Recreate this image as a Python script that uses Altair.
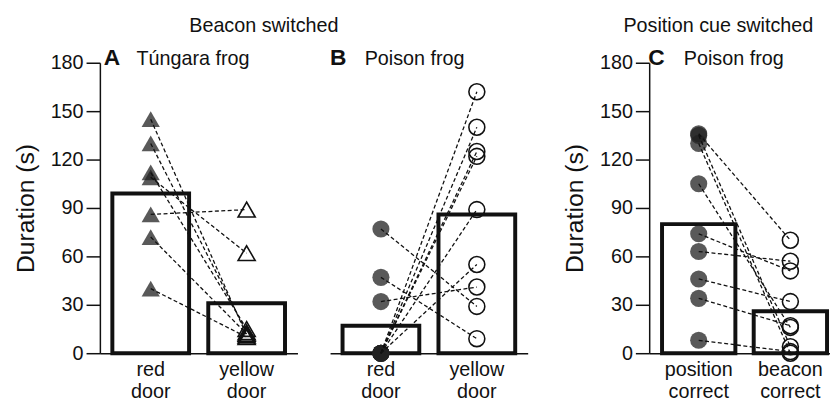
import altair as alt
import pandas as pd

FONT = "Liberation Sans"
INK = "#111111"

# ---- data ----
y_ticks = [0, 30, 60, 90, 120, 150, 180]

a_cats = ["red door", "yellow door"]
a_first = [145, 130, 112, 109, 86, 72, 40]      # red door (filled triangles)
a_second = [11, 13, 15, 62, 89, 12, 10]          # yellow door (open triangles)
a_bars = [99, 31]

b_cats = ["red door", "yellow door"]
b_first = [77, 47, 32, 0, 0, 0, 0, 0, 0]         # red door (filled circles)
b_second = [29, 9, 41, 162, 140, 125, 122, 89, 55]  # yellow door (open circles)
b_bars = [17, 86]

c_cats = ["position correct", "beacon correct"]
c_first = [136, 135, 130, 105, 74, 63, 46, 34, 8]   # position correct
c_second = [70, 4, 0, 16, 51, 57, 32, 17, 1]        # beacon correct
c_bars = [80, 26]


def text_layer(s, x, y, size, weight="normal", align="left"):
    return alt.Chart(pd.DataFrame({"t": [s]})).mark_text(
        align=align, baseline="alphabetic", font=FONT, fontSize=size,
        fontWeight=weight, color=INK
    ).encode(text="t:N", x=alt.value(x), y=alt.value(y))


def panel(cats, first, second, bars, shape, letter, species, show_y,
          letter_x=4, species_x=37, header=None, header_x=0, width=200,
          pad_outer=0.13, align=0.5):
    n = len(first)
    pts = pd.DataFrame({
        "subject": list(range(n)) * 2,
        "cond": [cats[0]] * n + [cats[1]] * n,
        "value": first + second,
    })
    bar_df = pd.DataFrame({"cond": cats, "value": bars})
    xs = alt.Scale(domain=cats, paddingInner=0.2, paddingOuter=pad_outer, align=align)
    ys = alt.Scale(domain=[0, 180], nice=False)
    xaxis = alt.Axis(title=None, labelExpr="split(datum.label, ' ')", labelAngle=0,
                     ticks=False, labelFontSize=20, labelLineHeight=22, labelPadding=7,
                     labelFont=FONT, labelColor=INK, domainColor=INK, domainWidth=1.5,
                     labelBaseline="top")
    if show_y:
        yaxis = alt.Axis(values=y_ticks, title="Duration (s)", grid=False,
                         titleFont=FONT, titleFontSize=25, titleFontWeight="normal",
                         titleColor=INK, titlePadding=12,
                         labelFont=FONT, labelFontSize=20, labelColor=INK, labelPadding=3,
                         tickSize=14, tickWidth=1.5, tickColor=INK,
                         domainColor=INK, domainWidth=1.5)
        y_bar = alt.Y("value:Q", scale=ys, axis=yaxis)
    else:
        y_bar = alt.Y("value:Q", scale=ys, axis=None)

    bars_l = alt.Chart(bar_df).mark_bar(fill="white", stroke=INK, strokeWidth=4).encode(
        x=alt.X("cond:N", scale=xs, sort=cats, axis=xaxis), y=y_bar)

    xe = alt.X("cond:N", scale=xs, sort=cats)
    ye = alt.Y("value:Q", scale=ys)
    size_f = 340 if shape == "triangle-up" else 300
    size_o = 300 if shape == "triangle-up" else 260
    p1 = alt.Chart(pts[pts["cond"] == cats[0]]).mark_point(
        shape=shape, filled=True, color="#222222", opacity=0.75, size=size_f,
        strokeWidth=0).encode(x=xe, y=ye)
    p2 = alt.Chart(pts[pts["cond"] == cats[1]]).mark_point(
        shape=shape, filled=False, color=INK, opacity=1, size=size_o,
        strokeWidth=1.6).encode(x=xe, y=ye)
    lines = alt.Chart(pts).mark_line(color=INK, strokeWidth=1.3, strokeDash=[4, 2.5]).encode(
        x=xe, y=ye, detail="subject:N")

    layers = [bars_l, p1, p2, lines,
              text_layer(letter, letter_x, 2, 23, "bold"),
              text_layer(species, species_x, 2, 20)]
    if header:
        layers.append(text_layer(header, header_x, -31, 20, align="center"))
    return alt.layer(*layers).properties(width=width, height=294)


A = panel(a_cats, a_first, a_second, a_bars, "triangle-up", "A", "Túngara frog", True,
          letter_x=4, species_x=37, header="Beacon switched", header_x=166)
B = panel(b_cats, b_first, b_second, b_bars, "circle", "B", "Poison frog", False,
          letter_x=0, species_x=35)
C = panel(c_cats, c_first, c_second, c_bars, "circle", "C", "Poison frog", True,
          letter_x=-1, species_x=35, header="Position cue switched", header_x=70,
          width=183, pad_outer=0.0862, align=0.8125)

inner = alt.HConcatChart(hconcat=[A, B], spacing=33, bounds="flush")
chart = alt.HConcatChart(hconcat=[inner, C], spacing=35, bounds="full").properties(
    padding={"left": 5, "top": 6, "right": 0, "bottom": 0}
).configure(font=FONT).configure_view(stroke="transparent", strokeWidth=0)

chart.save("out.html", embed_options={"renderer": "svg", "actions": False})
